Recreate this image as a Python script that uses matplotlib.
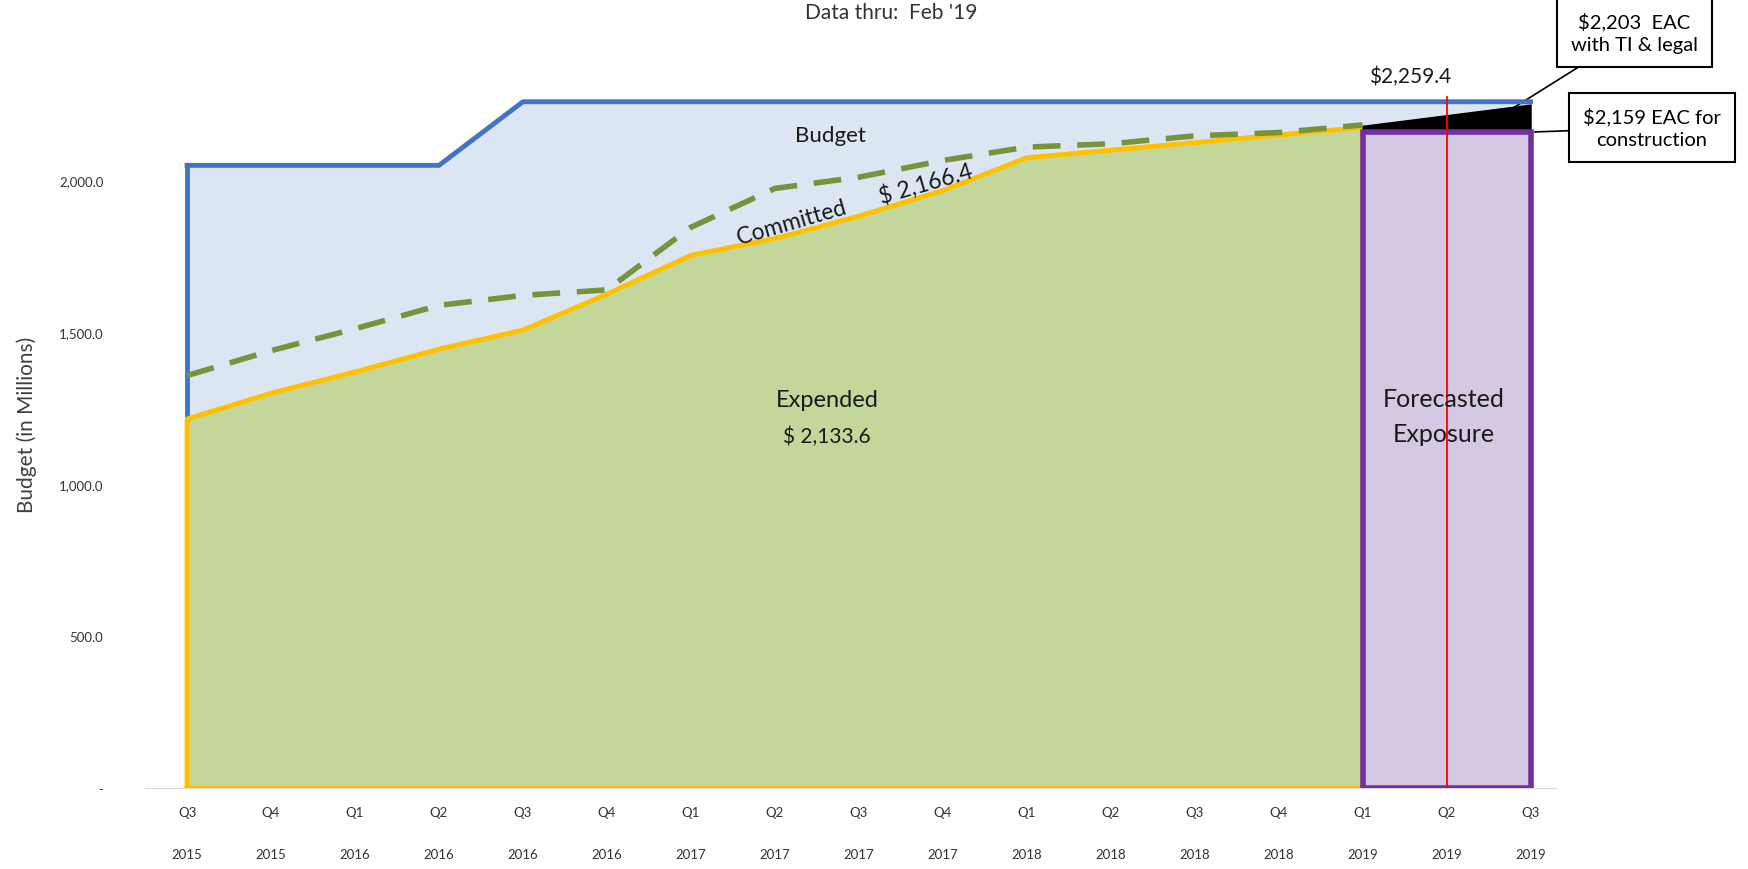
import matplotlib
matplotlib.use("Agg")
import matplotlib.pyplot as plt
import numpy as np

plt.rcParams['font.family'] = ['Lato', 'DejaVu Sans']

# quarters on the x axis
quarters = ["Q3", "Q4", "Q1", "Q2", "Q3", "Q4", "Q1", "Q2", "Q3", "Q4",
            "Q1", "Q2", "Q3", "Q4", "Q1", "Q2", "Q3"]
years = ["2015", "2015", "2016", "2016", "2016", "2016", "2017", "2017", "2017",
         "2017", "2018", "2018", "2018", "2018", "2019", "2019", "2019"]

# series in $ millions
budget = [2050, 2050, 2050, 2050, 2259.4, 2259.4, 2259.4, 2259.4, 2259.4,
          2259.4, 2259.4, 2259.4, 2259.4, 2259.4, 2259.4, 2259.4, 2259.4]
expended = [1215, 1300, 1370, 1445, 1508, 1626, 1754, 1809, 1883, 1967,
            2075, 2100, 2125, 2150, 2175]
committed = [1358, 1440, 1512, 1589, 1622, 1640, 1846, 1974, 2011, 2066,
             2110, 2121, 2147, 2158, 2183]
eac_construction = 2159
eac_total = [2180, 2250]   # top edge of the black wedge, Q1 2019 -> Q3 2019

x = np.arange(len(quarters))
xe = x[:len(expended)]

fig = plt.figure(figsize=(17.48, 8.70), dpi=100)
ax = fig.add_axes([0.083, 0.093, 0.807, 0.838])

# budget area
ax.fill_between(x, 0, budget, color='#dce6f2', zorder=1)
ax.plot(x, budget, color='#4472c4', lw=3.5, zorder=4)
ax.plot([x[0], x[0]], [expended[0], budget[0]], color='#4472c4', lw=3.5, zorder=4)

# expended area
ax.fill_between(xe, 0, expended, color='#c4d79b', zorder=2)
ax.plot(np.r_[xe[0], xe, xe[-1], xe[0]], np.r_[0, expended, 0, 0],
        color='#ffc000', lw=3.5, zorder=5)

# committed
ax.plot(xe, committed, color='#77933c', lw=4, ls=(0, (5, 3)), zorder=6)

# forecasted exposure box
xf = x[len(expended) - 1]
ax.bar(xf, eac_construction, width=x[-1] - xf, align='edge',
       color='#d5c8e2', edgecolor='#7030a0', lw=4, zorder=6)
ax.fill_between([xf, x[-1]], eac_construction, eac_total, color='black', zorder=5)
ax.plot([x[15], x[15]], [0, 2275], color='red', lw=1.3, zorder=7)

# labels inside the chart
ax.text(7.66, 2150, "Budget", fontsize=16, ha='center', va='center', color='#1a1a1a', zorder=8)
ax.text(7.95, 1925, "Committed      $ 2,166.4", fontsize=16.5, ha='center', va='center',
        rotation=16, color='#1a1a1a', zorder=8)
ax.text(7.62, 1280, "Expended", fontsize=17, ha='center', va='center', color='#1a1a1a', zorder=8)
ax.text(7.62, 1160, "$ 2,133.6", fontsize=15, ha='center', va='center', color='#1a1a1a', zorder=8)
ax.text(14.97, 1225, "Forecasted\nExposure", fontsize=18, ha='center', va='center',
        color='#1a1a1a', linespacing=1.6, zorder=8)
ax.text(14.57, 2345, "$2,259.4", fontsize=15, ha='center', va='center', color='#1a1a1a')

# callout boxes
box = dict(boxstyle='square,pad=0.7', fc='white', ec='black', lw=1.5)
ax.annotate("$2,203  EAC\nwith TI & legal", xy=(15.8, 2240), xytext=(0.935, 0.962),
            textcoords='figure fraction', fontsize=14.5, ha='center', va='center',
            linespacing=1.4, bbox=box,
            arrowprops=dict(arrowstyle='-', color='black', lw=1.2, shrinkA=0, shrinkB=0))
ax.annotate("$2,159 EAC for\nconstruction", xy=(16.05, 2160), xytext=(0.945, 0.852),
            textcoords='figure fraction', fontsize=14.5, ha='center', va='center',
            linespacing=1.4, bbox=box,
            arrowprops=dict(arrowstyle='-', color='black', lw=1.2, shrinkA=0, shrinkB=0))

fig.text(0.51, 0.985, "Data thru:  Feb '19", fontsize=15, ha='center', va='center', color='#333333')

# axes styling
ax.set_xlim(-0.5, 16.3)
ax.set_ylim(0, 2400)
ax.set_xticks(x)
ax.set_xticklabels([q + "\n" + y for q, y in zip(quarters, years)],
                   fontsize=9.5, color='#333333', linespacing=4.0)
ax.set_yticks([0, 500, 1000, 1500, 2000])
ax.set_yticklabels(["-", "500.0", "1,000.0", "1,500.0", "2,000.0"], fontsize=9.5, color='#333333')
ax.tick_params(axis='x', length=0, pad=13)
ax.tick_params(axis='y', length=0, pad=30)
for s in ['top', 'right', 'left']:
    ax.spines[s].set_visible(False)
ax.spines['bottom'].set_color('#d9d9d9')
ax.set_ylabel("Budget (in Millions)", fontsize=15, color='#404040', labelpad=16)

fig.savefig("out.png", dpi=100)
